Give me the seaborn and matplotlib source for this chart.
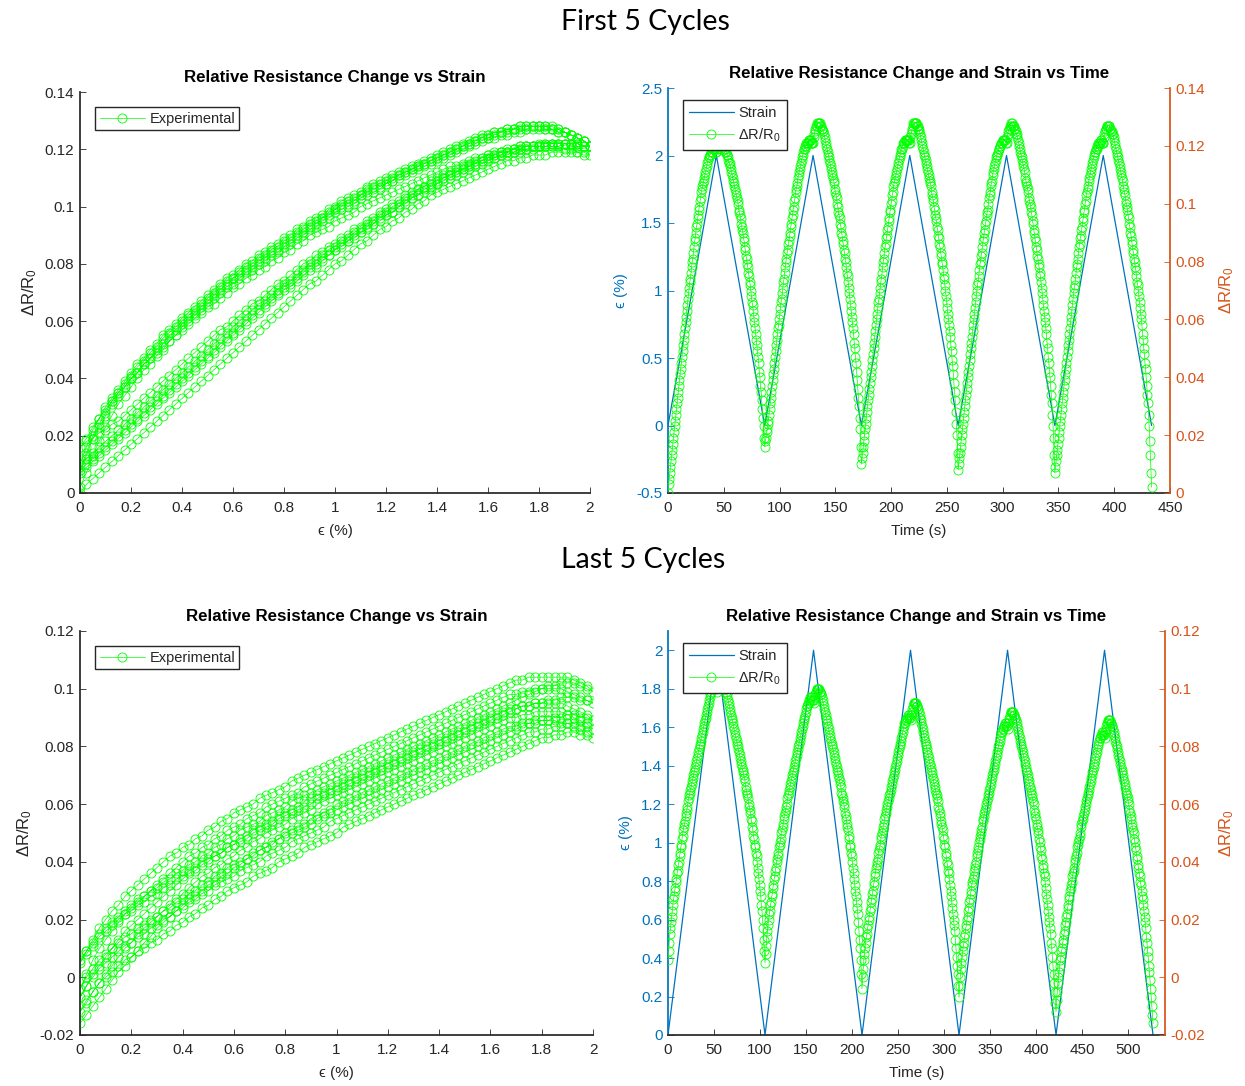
import numpy as np
import pandas as pd
import matplotlib
matplotlib.use("Agg")
import matplotlib.pyplot as plt
from matplotlib.lines import Line2D
from matplotlib.ticker import FuncFormatter
import seaborn as sns

# strain steps (%) of one loading ramp, same for every cycle
strain_ramp = [0, 0.025, 0.05, 0.075, 0.1, 0.125, 0.15, 0.175, 0.2, 0.225,
               0.25, 0.275, 0.3, 0.325, 0.35, 0.375, 0.4, 0.425, 0.45, 0.475,
               0.5, 0.525, 0.55, 0.575, 0.6, 0.625, 0.65, 0.675, 0.7, 0.725,
               0.75, 0.775, 0.8, 0.825, 0.85, 0.875, 0.9, 0.925, 0.95, 0.975,
               1.0, 1.025, 1.05, 1.075, 1.1, 1.125, 1.15, 1.175, 1.2, 1.225,
               1.25, 1.275, 1.3, 1.325, 1.35, 1.375, 1.4, 1.425, 1.45, 1.475,
               1.5, 1.525, 1.55, 1.575, 1.6, 1.625, 1.65, 1.675, 1.7, 1.725,
               1.75, 1.775, 1.8, 1.825, 1.85, 1.875, 1.9, 1.925, 1.95, 1.975, 2.0]

# cycle period (s)
period_first = 86.7
period_last = 105.4

# dR/R0 (x1e-3). "up": strain 0 -> 2 % (81 pts), "down": 1.975 -> 0.025 % (79 pts)
first_c1_up = [0, 3, 5, 7, 9, 11, 13, 15, 17, 19, 21, 23, 25, 27, 29, 31, 33, 35, 37, 39,
               41, 43, 45, 47, 49, 51, 53, 55, 57, 59, 61, 63, 65, 67, 69, 71, 73, 74, 76, 78,
               80, 81, 83, 85, 87, 88, 90, 92, 93, 95, 96, 98, 99, 101, 102, 104, 105, 106, 107, 108,
               109, 110, 111, 112, 113, 114, 115, 116, 116, 117, 117, 118, 118, 118, 119, 119, 119, 119, 119, 118,
               118]
first_c1_down = [119, 119, 120, 120, 121, 121, 121, 121, 121, 121, 120, 120, 119, 119, 118, 118, 117, 117, 116, 115,
                 114, 114, 113, 112, 111, 110, 109, 108, 107, 106, 105, 104, 103, 102, 101, 100, 98, 97, 96, 95,
                 93, 92, 91, 90, 88, 87, 85, 84, 82, 81, 79, 78, 76, 75, 73, 72, 70, 68, 66, 65,
                 63, 61, 59, 57, 55, 53, 51, 49, 47, 45, 42, 40, 37, 35, 32, 29, 26, 23, 19]
first_c2_up = [16, 18, 19, 21, 22, 24, 25, 27, 29, 31, 33, 35, 37, 39, 41, 43, 45, 47, 49, 51,
               53, 55, 57, 58, 60, 62, 64, 66, 67, 69, 71, 73, 74, 76, 78, 80, 81, 83, 84, 86,
               87, 89, 90, 92, 93, 95, 96, 98, 99, 101, 102, 104, 105, 106, 107, 109, 110, 111, 112, 113,
               114, 115, 116, 117, 118, 119, 119, 120, 120, 121, 121, 121, 121, 122, 122, 122, 122, 121, 121, 121,
               121]
first_c2_down = [123, 124, 125, 126, 127, 127, 128, 128, 128, 128, 128, 127, 127, 126, 126, 125, 125, 124, 123, 122,
                 121, 120, 119, 118, 117, 116, 115, 114, 113, 112, 111, 110, 109, 108, 107, 105, 104, 103, 102, 100,
                 99, 97, 96, 95, 93, 92, 90, 89, 87, 86, 84, 83, 81, 80, 78, 76, 75, 73, 71, 69,
                 67, 65, 63, 61, 59, 57, 55, 52, 50, 47, 45, 42, 39, 36, 33, 30, 26, 22, 16]
first_c3_up = [10, 12, 14, 16, 18, 20, 22, 24, 26, 28, 30, 32, 34, 36, 38, 40, 42, 44, 46, 48,
               50, 52, 54, 56, 58, 60, 62, 64, 66, 67, 69, 71, 73, 74, 76, 78, 80, 81, 83, 85,
               86, 88, 89, 91, 92, 94, 95, 97, 98, 100, 101, 103, 104, 106, 107, 108, 109, 110, 111, 112,
               113, 114, 115, 116, 117, 118, 119, 119, 120, 121, 121, 121, 122, 122, 122, 122, 122, 122, 122, 121,
               121]
first_c3_down = [123, 124, 125, 126, 127, 128, 128, 128, 128, 128, 128, 127, 127, 126, 126, 125, 124, 123, 122, 121,
                 120, 119, 118, 117, 116, 115, 114, 113, 112, 111, 110, 109, 108, 107, 106, 104, 103, 102, 101, 99,
                 98, 96, 95, 94, 92, 91, 89, 88, 86, 85, 83, 82, 80, 79, 77, 75, 74, 72, 70, 68,
                 66, 64, 62, 60, 58, 56, 54, 51, 49, 46, 44, 41, 38, 35, 32, 28, 24, 20, 14]
first_c4_up = [8, 10, 12, 14, 16, 18, 20, 22, 24, 26, 28, 30, 32, 34, 36, 38, 40, 42, 44, 46,
               48, 50, 52, 54, 56, 58, 60, 62, 64, 66, 68, 70, 72, 73, 75, 77, 79, 80, 82, 83,
               85, 87, 88, 90, 91, 93, 94, 96, 97, 98, 100, 102, 103, 104, 106, 107, 108, 110, 111, 112,
               113, 114, 115, 116, 117, 117, 118, 119, 119, 120, 120, 121, 121, 121, 122, 122, 122, 122, 122, 121,
               121]
first_c4_down = [123, 124, 125, 126, 126, 127, 127, 128, 128, 127, 127, 127, 126, 126, 125, 124, 124, 123, 122, 121,
                 120, 119, 118, 117, 116, 115, 114, 113, 112, 111, 109, 108, 107, 106, 105, 104, 102, 101, 100, 99,
                 97, 96, 94, 93, 91, 90, 88, 87, 85, 84, 82, 81, 79, 78, 76, 75, 73, 71, 69, 67,
                 65, 63, 61, 59, 57, 55, 52, 50, 47, 45, 42, 40, 37, 34, 31, 27, 23, 19, 13]
first_c5_up = [7, 9, 11, 13, 15, 17, 19, 21, 23, 25, 27, 29, 31, 33, 35, 37, 39, 41, 43, 45,
               47, 49, 51, 53, 55, 57, 59, 61, 63, 65, 67, 69, 71, 72, 74, 76, 78, 79, 81, 83,
               85, 86, 88, 89, 91, 92, 94, 95, 97, 98, 100, 101, 103, 104, 105, 106, 108, 109, 110, 111,
               112, 113, 114, 115, 116, 117, 118, 118, 119, 119, 120, 120, 121, 121, 121, 121, 122, 122, 121, 121,
               121]
first_c5_down = [123, 124, 125, 126, 126, 127, 127, 127, 127, 127, 126, 126, 125, 125, 124, 124, 123, 122, 121, 120,
                 119, 118, 117, 116, 115, 114, 113, 112, 111, 110, 109, 108, 106, 105, 104, 103, 101, 100, 99, 98,
                 96, 95, 93, 92, 90, 89, 87, 86, 84, 83, 81, 80, 78, 77, 75, 73, 72, 70, 68, 66,
                 64, 62, 60, 58, 55, 53, 50, 48, 45, 43, 40, 37, 34, 31, 27, 23, 18, 13, 7]
first_end = 2

last_c1_up = [6, 9, 12, 15, 17, 19, 21, 23, 25, 27, 28, 30, 31, 33, 34, 36, 37, 39, 40, 42,
              43, 45, 46, 48, 49, 51, 52, 53, 54, 56, 57, 58, 59, 61, 62, 63, 64, 65, 66, 67,
              68, 69, 70, 71, 72, 73, 74, 75, 76, 77, 78, 79, 80, 81, 82, 83, 84, 85, 86, 87,
              88, 89, 90, 91, 92, 93, 94, 95, 96, 97, 98, 99, 100, 101, 101, 102, 102, 102, 101, 100,
              99]
last_c1_down = [101, 102, 103, 104, 104, 104, 104, 104, 104, 104, 103, 103, 102, 101, 100, 99, 98, 97, 96, 95,
                94, 93, 92, 91, 90, 89, 88, 87, 86, 85, 84, 83, 82, 81, 80, 79, 78, 77, 76, 75,
                74, 73, 72, 71, 70, 69, 68, 66, 65, 64, 63, 62, 60, 59, 58, 57, 55, 54, 52, 51,
                49, 48, 46, 45, 43, 42, 40, 38, 36, 34, 32, 30, 28, 25, 23, 20, 17, 13, 9]
last_c2_up = [5, 8, 11, 14, 16, 18, 20, 22, 23, 25, 26, 28, 29, 31, 32, 34, 35, 37, 38, 40,
              41, 42, 43, 45, 46, 47, 48, 50, 51, 52, 53, 55, 56, 57, 58, 59, 60, 62, 63, 64,
              65, 66, 67, 68, 69, 70, 71, 72, 73, 74, 75, 76, 77, 78, 79, 80, 81, 82, 83, 84,
              85, 86, 87, 88, 89, 90, 91, 92, 93, 94, 94, 95, 95, 96, 96, 97, 97, 97, 96, 96,
              95]
last_c2_down = [96, 97, 98, 99, 100, 100, 100, 100, 100, 99, 99, 98, 98, 97, 96, 95, 94, 93, 92, 91,
                90, 89, 88, 87, 86, 85, 84, 83, 82, 81, 80, 79, 78, 77, 76, 75, 74, 73, 72, 71,
                70, 69, 68, 67, 66, 64, 63, 62, 61, 60, 59, 57, 56, 55, 53, 52, 51, 49, 48, 46,
                45, 43, 42, 40, 38, 36, 34, 32, 30, 28, 26, 24, 22, 19, 16, 13, 10, 6, 1]
last_c3_up = [-4, 0, 3, 6, 8, 10, 12, 14, 15, 17, 18, 20, 21, 23, 24, 26, 27, 29, 30, 32,
              33, 35, 36, 38, 39, 40, 41, 43, 44, 45, 46, 48, 49, 50, 51, 52, 53, 55, 56, 57,
              58, 59, 60, 61, 62, 63, 64, 65, 66, 67, 68, 69, 70, 71, 72, 73, 74, 75, 76, 77,
              78, 79, 80, 81, 82, 83, 84, 85, 86, 87, 88, 88, 89, 89, 90, 90, 91, 91, 90, 90,
              89]
last_c3_down = [91, 92, 93, 94, 95, 95, 95, 95, 95, 94, 94, 93, 93, 92, 91, 90, 89, 88, 87, 86,
                85, 84, 83, 82, 81, 80, 79, 78, 77, 76, 75, 74, 73, 72, 71, 70, 69, 68, 67, 66,
                65, 64, 63, 62, 61, 59, 58, 57, 56, 54, 53, 52, 51, 49, 48, 46, 45, 43, 42, 40,
                39, 37, 36, 34, 32, 30, 28, 26, 24, 22, 20, 18, 16, 13, 10, 7, 4, 1, -3]
last_c4_up = [-7, -3, 0, 3, 5, 7, 9, 11, 12, 14, 15, 17, 18, 20, 21, 23, 24, 26, 27, 29,
              30, 32, 33, 34, 35, 37, 38, 39, 40, 42, 43, 44, 45, 47, 48, 49, 50, 51, 52, 54,
              55, 56, 57, 58, 59, 60, 61, 62, 63, 64, 65, 66, 67, 68, 69, 70, 71, 72, 73, 74,
              75, 76, 77, 78, 79, 80, 81, 82, 83, 84, 85, 85, 86, 86, 87, 87, 88, 88, 87, 87,
              86]
last_c4_down = [88, 89, 90, 91, 92, 92, 92, 92, 92, 91, 91, 90, 90, 89, 88, 87, 86, 85, 84, 83,
                82, 81, 80, 79, 78, 77, 76, 75, 74, 73, 72, 71, 70, 69, 68, 67, 66, 65, 64, 63,
                62, 61, 60, 58, 57, 56, 55, 53, 52, 51, 50, 48, 47, 45, 44, 42, 41, 39, 38, 36,
                35, 33, 31, 29, 27, 25, 23, 21, 19, 17, 15, 12, 10, 7, 4, 1, -2, -5, -9]
last_c5_up = [-12, -8, -5, -2, 0, 2, 4, 6, 7, 9, 10, 12, 13, 15, 16, 18, 19, 21, 22, 24,
              25, 27, 28, 30, 31, 32, 33, 35, 36, 37, 38, 40, 41, 42, 43, 45, 46, 47, 48, 49,
              50, 52, 53, 54, 55, 56, 57, 58, 59, 60, 61, 62, 63, 64, 65, 66, 67, 68, 69, 70,
              71, 72, 73, 74, 75, 76, 77, 78, 79, 80, 81, 82, 83, 83, 84, 84, 85, 85, 84, 84,
              83]
last_c5_down = [85, 86, 87, 88, 88, 89, 89, 89, 89, 88, 88, 87, 87, 86, 85, 84, 83, 82, 81, 80,
                79, 78, 77, 76, 75, 74, 73, 72, 71, 70, 69, 68, 67, 66, 65, 64, 63, 62, 61, 60,
                58, 57, 56, 55, 53, 52, 51, 50, 48, 47, 45, 44, 42, 41, 39, 38, 36, 35, 33, 32,
                30, 28, 27, 25, 23, 21, 19, 17, 14, 12, 9, 7, 4, 2, -1, -4, -7, -10, -13]
last_end = -16

GREEN = (0, 1, 0)
BLUE = (0, 0.447, 0.741)
ORANGE = (0.85, 0.325, 0.098)
AXC = (0.15, 0.15, 0.15)

sns.set_theme(style="ticks")
plt.rcParams["font.family"] = ["Liberation Sans", "DejaVu Sans"]
plt.rcParams["mathtext.default"] = "regular"
plt.rcParams["xtick.direction"] = "in"
plt.rcParams["ytick.direction"] = "in"

cycle_strain = strain_ramp + strain_ramp[-2:0:-1]


def build(cycles, end, period):
    parts = [np.array(up + down, dtype=float) for up, down in cycles]
    dr = np.concatenate(parts + [[end]]) * 1e-3
    strain = np.array(cycle_strain * len(cycles) + [0.0])
    t = np.arange(len(dr)) * period / len(cycle_strain)
    return pd.DataFrame({"time": t, "strain": strain, "dr": dr})


first = build([(first_c1_up, first_c1_down), (first_c2_up, first_c2_down),
               (first_c3_up, first_c3_down), (first_c4_up, first_c4_down),
               (first_c5_up, first_c5_down)], first_end, period_first)
last = build([(last_c1_up, last_c1_down), (last_c2_up, last_c2_down),
              (last_c3_up, last_c3_down), (last_c4_up, last_c4_down),
              (last_c5_up, last_c5_down)], last_end, period_last)

mk = dict(marker="o", markersize=6.5, markerfacecolor="none", markeredgecolor=GREEN,
          markeredgewidth=0.6, linewidth=0.5, color=GREEN)
fmt = FuncFormatter(lambda v, p: "%g" % round(v, 6))
TICK = 11
LAB = 11
TITLE = 12.2
LEG = 10.5
W, H = 1245, 1086


def box(l, r, t, b):
    return [l / W, (H - b) / H, (r - l) / W, (b - t) / H]


def base_style(ax, ycolor=AXC):
    for s in ["top", "right"]:
        ax.spines[s].set_visible(False)
    ax.spines["bottom"].set_color(AXC)
    ax.spines["left"].set_color(ycolor)
    ax.tick_params(axis="x", colors=AXC, labelsize=TICK, length=4, width=0.6, pad=6)
    ax.tick_params(axis="y", colors=ycolor, labelsize=TICK, length=4, width=0.6, pad=4)
    ax.xaxis.set_major_formatter(fmt)
    ax.yaxis.set_major_formatter(fmt)


def strain_panel(ax, df, ylim):
    sns.lineplot(data=df, x="strain", y="dr", sort=False, estimator=None, ax=ax, **mk)
    base_style(ax)
    ax.set_xlim(0, 2)
    ax.set_xticks(np.arange(0, 2.01, 0.2))
    ax.set_ylim(*ylim)
    ax.set_yticks(np.arange(ylim[0], ylim[1] + 1e-9, 0.02))
    ax.set_xlabel("\u03f5 (%)", fontsize=LAB, color=AXC, labelpad=6)
    ax.set_ylabel("\u0394R/R$_0$", fontsize=LAB + 1, color=AXC, labelpad=4)
    ax.set_title("Relative Resistance Change vs Strain", fontsize=TITLE, fontweight="bold",
                 color="black", pad=7)
    h = Line2D([], [], **mk)
    ax.legend([h], ["Experimental"], loc="upper left", bbox_to_anchor=(0.03, 0.962),
              frameon=True, fancybox=False, edgecolor=AXC, framealpha=1, fontsize=LEG,
              handlelength=3.1, borderpad=0.3, borderaxespad=0, handletextpad=0.3)


def time_panel(ax, df, xlim, xticks, ylim_l, yticks_l, ylim_r, yticks_r):
    sns.lineplot(data=df, x="time", y="strain", sort=False, estimator=None, ax=ax,
                 color=BLUE, linewidth=0.9)
    base_style(ax, BLUE)
    ax.set_xlim(*xlim)
    ax.set_xticks(xticks)
    ax.set_ylim(*ylim_l)
    ax.set_yticks(yticks_l)
    ax.set_xlabel("Time (s)", fontsize=LAB, color=AXC, labelpad=6)
    ax.set_ylabel("\u03f5 (%)", fontsize=LAB, color=BLUE, labelpad=6)
    ax.set_title("Relative Resistance Change and Strain vs Time", fontsize=TITLE,
                 fontweight="bold", color="black", pad=7)

    ax2 = ax.twinx()
    sns.lineplot(data=df, x="time", y="dr", sort=False, estimator=None, ax=ax2, **mk)
    for s in ["top", "left", "bottom"]:
        ax2.spines[s].set_visible(False)
    ax2.spines["right"].set_color(ORANGE)
    ax2.tick_params(axis="y", colors=ORANGE, labelsize=TICK, length=4, width=0.6, pad=4)
    ax2.yaxis.set_major_formatter(fmt)
    ax2.set_ylim(*ylim_r)
    ax2.set_yticks(yticks_r)
    ax2.set_xlim(*xlim)
    ax2.set_ylabel("\u0394R/R$_0$", fontsize=LAB + 1, color=ORANGE, labelpad=9)
    hs = [Line2D([], [], color=BLUE, linewidth=0.9), Line2D([], [], **mk)]
    ax2.legend(hs, ["Strain", "\u0394R/R$_0$"], loc="upper left", bbox_to_anchor=(0.03, 0.97),
               frameon=True, fancybox=False, edgecolor=AXC, framealpha=1, fontsize=LEG,
               handlelength=3.1, borderpad=0.4, borderaxespad=0, handletextpad=0.3,
               labelspacing=0.45)


fig = plt.figure(figsize=(12.45, 10.86), dpi=100)

ax_tl = fig.add_axes(box(80, 590, 92, 493))
strain_panel(ax_tl, first, (0, 0.14))

ax_tr = fig.add_axes(box(668, 1170, 88, 493))
time_panel(ax_tr, first, (0, 450), np.arange(0, 451, 50), (-0.5, 2.5),
           np.arange(-0.5, 2.51, 0.5), (0, 0.14), np.arange(0, 0.141, 0.02))

ax_bl = fig.add_axes(box(80, 593, 631, 1035))
strain_panel(ax_bl, last, (-0.02, 0.12))

ax_br = fig.add_axes(box(668, 1165, 631, 1035))
time_panel(ax_br, last, (0, 540), np.arange(0, 501, 50), (0, 2.1),
           np.arange(0, 2.01, 0.2), (-0.02, 0.12), np.arange(-0.02, 0.121, 0.02))

fig.text(645 / W, 1 - 22 / H, "First 5 Cycles", ha="center", va="center",
         fontsize=20.5, family=["Lato", "DejaVu Sans"], color="black")
fig.text(643 / W, 1 - 560 / H, "Last 5 Cycles", ha="center", va="center",
         fontsize=20.5, family=["Lato", "DejaVu Sans"], color="black")

fig.savefig("out.png", dpi=100)
